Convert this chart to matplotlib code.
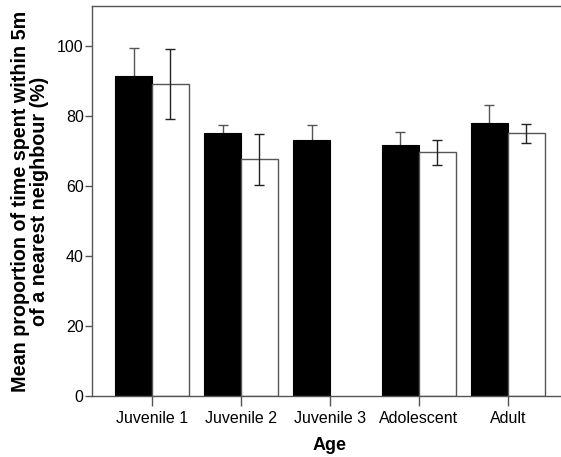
import numpy as np
import matplotlib
matplotlib.use('Agg')
import matplotlib.pyplot as plt

plt.rcParams['font.family'] = ['Liberation Sans', 'DejaVu Sans']

ages = ['Juvenile 1', 'Juvenile 2', 'Juvenile 3', 'Adolescent', 'Adult']
black_mean = [91.4, 75.2, 73.1, 71.6, 78.1]
black_err = [8.0, 2.3, 4.3, 3.9, 5.0]
white_mean = [89.1, 67.6, np.nan, 69.6, 75.0]
white_err = [9.9, 7.3, np.nan, 3.6, 2.8]

GRAY = '#555555'
x = np.arange(len(ages))
w = 0.415

fig = plt.figure(figsize=(5.61, 4.57), dpi=100)
ax = fig.add_axes([92 / 561, 61 / 457, 1 - 92 / 561 + 0.01, 390 / 457])

ax.bar(x - w / 2, black_mean, w, color='black', edgecolor='black', linewidth=0.8, zorder=2)
ax.bar(x + w / 2, white_mean, w, color='white', edgecolor=GRAY, linewidth=1.0, zorder=2)
ax.errorbar(x - w / 2, black_mean, yerr=black_err, fmt='none', ecolor=GRAY,
            elinewidth=1.0, capsize=3.6, capthick=1.0, zorder=1)
ax.errorbar(x + w / 2, white_mean, yerr=white_err, fmt='none', ecolor='#222222',
            elinewidth=1.0, capsize=3.6, capthick=1.0, zorder=3)

ax.set_xlim(-0.674, 4.596 + 0.01 * 561 / 89)
ax.set_ylim(0, 111.4)
ax.set_xticks(x)
ax.set_xticklabels(ages)
ax.set_yticks([0, 20, 40, 60, 80, 100])
ax.tick_params(axis='x', direction='out', length=7, width=1, color=GRAY, labelsize=11.5, pad=4)
ax.tick_params(axis='y', direction='out', length=5, width=1, color=GRAY, labelsize=11.5, pad=1)
for s in ['left', 'bottom', 'top', 'right']:
    ax.spines[s].set_color(GRAY)
    ax.spines[s].set_linewidth(1.0)
ax.spines['right'].set_visible(False)

ax.set_xlabel('Age', fontsize=13, fontweight='bold', labelpad=8)
ax.set_ylabel('Mean proportion of time spent within 5m\nof a nearest neighbour (%)',
              fontsize=14.2, fontweight='bold', labelpad=6, linespacing=0.95)

fig.savefig('out.png', dpi=100)
